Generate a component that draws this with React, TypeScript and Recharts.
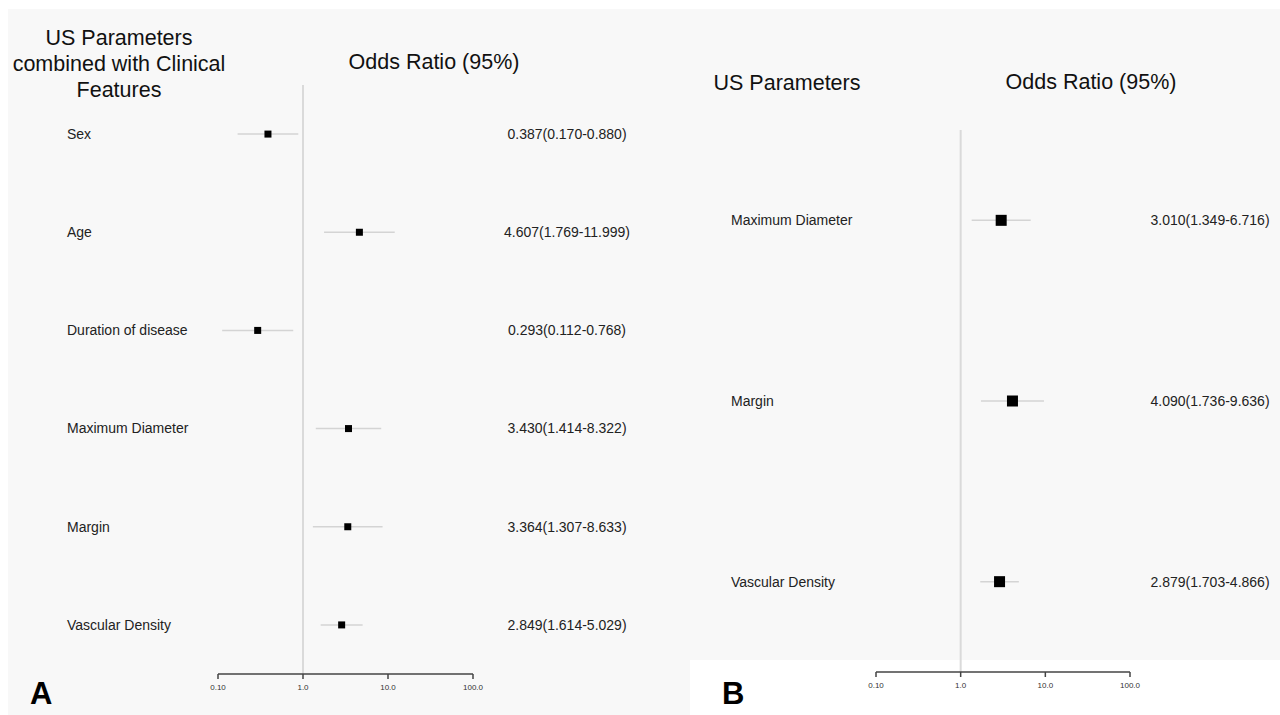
import React from "react";
import {
  ScatterChart,
  Scatter,
  XAxis,
  YAxis,
  ErrorBar,
  ReferenceLine,
} from "recharts";

const FONT = '"Liberation Sans", Arial, sans-serif';

// Panel A: US parameters combined with clinical features
const A_LABELS = [
  "Sex",
  "Age",
  "Duration of disease",
  "Maximum Diameter",
  "Margin",
  "Vascular Density",
];
const A_OR = [0.387, 4.607, 0.293, 3.43, 3.364, 2.849];
const A_LOW = [0.17, 1.769, 0.112, 1.414, 1.307, 1.614];
const A_HIGH = [0.88, 11.999, 0.768, 8.322, 8.633, 5.029];
const A_TEXT = [
  "0.387(0.170-0.880)",
  "4.607(1.769-11.999)",
  "0.293(0.112-0.768)",
  "3.430(1.414-8.322)",
  "3.364(1.307-8.633)",
  "2.849(1.614-5.029)",
];

// Panel B: US parameters only
const B_LABELS = ["Maximum Diameter", "Margin", "Vascular Density"];
const B_OR = [3.01, 4.09, 2.879];
const B_LOW = [1.349, 1.736, 1.703];
const B_HIGH = [6.716, 9.636, 4.866];
const B_TEXT = [
  "3.010(1.349-6.716)",
  "4.090(1.736-9.636)",
  "2.879(1.703-4.866)",
];

const X_TICKS = [0.1, 1, 10, 100];
const X_TICK_LABELS = ["0.10", "1.0", "10.0", "100.0"];

function buildRows(labels: string[], or: number[], lo: number[], hi: number[], text: string[]) {
  return labels.map((label, i) => ({
    row: i,
    label,
    or: or[i],
    text: text[i],
    err: [or[i] - lo[i], hi[i] - or[i]],
  }));
}

type PanelProps = {
  rows: ReturnType<typeof buildRows>;
  left: number;
  top: number;
  width: number;
  axisWidth: number;
  rightMargin: number;
  bottomHeight: number;
  labelX: number;
  valueX: number;
  box: number;
};

function ForestPanel(p: PanelProps) {
  const n = p.rows.length;
  const RowTick = (props: any) => {
    const r = p.rows[props.index];
    if (!r) return null;
    return (
      <g>
        <text x={p.labelX} y={props.y} dy="0.35em" textAnchor="start" fontSize={14} fill="#222" fontFamily={FONT}>
          {r.label}
        </text>
        <text x={p.valueX} y={props.y} dy="0.35em" textAnchor="middle" fontSize={14} fill="#222" fontFamily={FONT}>
          {r.text}
        </text>
      </g>
    );
  };
  const Box = (props: any) => {
    const s = p.box;
    return <rect x={props.cx - s / 2} y={props.cy - s / 2} width={s} height={s} fill="#000" />;
  };
  return (
    <div style={{ position: "absolute", left: p.left, top: 0 }}>
      <ScatterChart
        width={p.width}
        height={715}
        margin={{ top: p.top, right: p.rightMargin, bottom: 0, left: 0 }}
      >
        <XAxis
          type="number"
          dataKey="or"
          scale="log"
          domain={[0.1, 100]}
          ticks={X_TICKS}
          allowDataOverflow
          height={p.bottomHeight}
          tickFormatter={(v: number) => X_TICK_LABELS[X_TICKS.indexOf(v)] ?? String(v)}
          axisLine={{ stroke: "#444", strokeWidth: 1.5 }}
          tickLine={{ stroke: "#444", strokeWidth: 1.5 }}
          tickSize={5}
          tickMargin={5}
          tick={{ fontSize: 8, fill: "#333", fontFamily: FONT }}
        />
        <YAxis
          type="number"
          dataKey="row"
          domain={[-0.5, n - 0.5]}
          ticks={p.rows.map((r) => r.row)}
          reversed
          width={p.axisWidth}
          axisLine={false}
          tickLine={false}
          tick={<RowTick />}
          interval={0}
        />
        <ReferenceLine x={1} stroke="#dadada" strokeWidth={2} />
        <Scatter data={p.rows} shape={<Box />} isAnimationActive={false}>
          <ErrorBar
            dataKey="err"
            direction="x"
            width={0}
            stroke="#d4d4d4"
            strokeWidth={1.5}
            isAnimationActive={false}
          />
        </Scatter>
      </ScatterChart>
    </div>
  );
}

const titleStyle: React.CSSProperties = {
  position: "absolute",
  fontFamily: FONT,
  fontSize: 21.5,
  color: "#111",
  lineHeight: "26px",
  textAlign: "center",
  whiteSpace: "nowrap",
  transform: "translateX(-50%)",
};

const letterStyle: React.CSSProperties = {
  position: "absolute",
  fontFamily: FONT,
  fontSize: 31,
  fontWeight: "bold",
  color: "#000",
  lineHeight: "31px",
};

export default function App() {
  const rowsA = buildRows(A_LABELS, A_OR, A_LOW, A_HIGH, A_TEXT);
  const rowsB = buildRows(B_LABELS, B_OR, B_LOW, B_HIGH, B_TEXT);
  return (
    <div
      style={{
        position: "absolute",
        left: 0,
        top: 0,
        width: 1280,
        height: 715,
        background: "#fff",
        overflow: "hidden",
      }}
    >
      <div style={{ position: "absolute", left: 8, top: 9, width: 682, height: 706, background: "#f8f8f8" }} />
      <div style={{ position: "absolute", left: 690, top: 9, width: 590, height: 651, background: "#f8f8f8" }} />

      <ForestPanel
        rows={rowsA}
        left={0}
        top={85}
        width={640}
        axisWidth={218}
        rightMargin={167}
        bottomHeight={41}
        labelX={67}
        valueX={567}
        box={7}
      />
      <ForestPanel
        rows={rowsB}
        left={640}
        top={130}
        width={640}
        axisWidth={236}
        rightMargin={150}
        bottomHeight={43}
        labelX={91}
        valueX={570}
        box={11}
      />

      <div style={{ ...titleStyle, left: 119, top: 25 }}>
        US Parameters
        <br />
        combined with Clinical
        <br />
        Features
      </div>
      <div style={{ ...titleStyle, left: 434, top: 49 }}>Odds Ratio (95%)</div>
      <div style={{ ...titleStyle, left: 787, top: 70 }}>US Parameters</div>
      <div style={{ ...titleStyle, left: 1091, top: 69 }}>Odds Ratio (95%)</div>

      <div style={{ ...letterStyle, left: 30, top: 678 }}>A</div>
      <div style={{ ...letterStyle, left: 722, top: 678 }}>B</div>
    </div>
  );
}
